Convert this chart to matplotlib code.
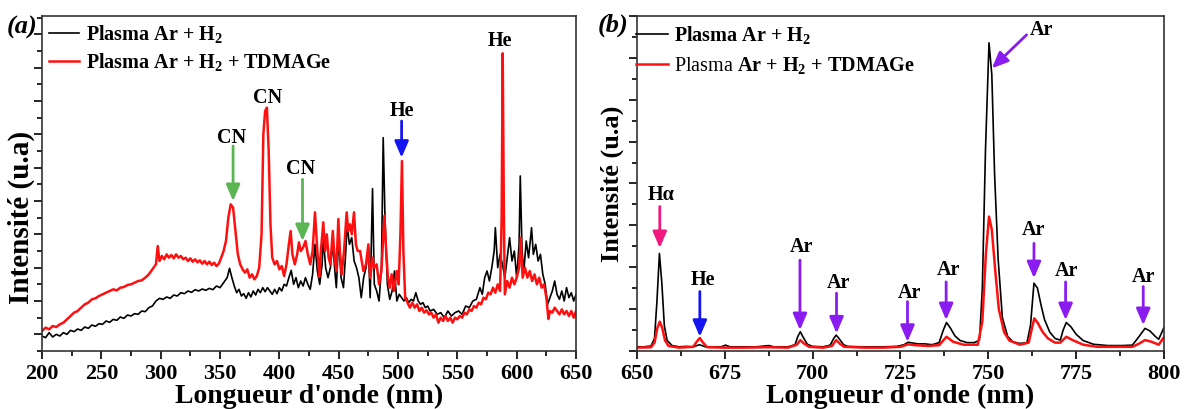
import matplotlib
matplotlib.use("Agg")
from matplotlib import pyplot as plt
from matplotlib.ticker import FixedLocator, MultipleLocator

plt.rcParams['font.family'] = ['Liberation Serif', 'DejaVu Serif']
plt.rcParams['font.weight'] = 'bold'
plt.rcParams['axes.labelweight'] = 'bold'
plt.rcParams['mathtext.fontset'] = 'custom'
plt.rcParams['mathtext.rm'] = 'Liberation Serif:bold'
plt.rcParams['mathtext.bf'] = 'Liberation Serif:bold'
plt.rcParams['mathtext.it'] = 'Liberation Serif:bold:italic'
plt.rcParams['mathtext.sf'] = 'Liberation Serif:weight=normal'

# ---- panel (a): 200-650 nm ----
wlA_black = [200, 203, 206, 209, 212, 215, 218, 221, 224, 227, 230, 233, 236, 239, 242, 245, 248, 251,
             254, 257, 260, 263, 266, 269, 272, 275, 278, 281, 284, 287, 290, 293, 296, 299, 302, 305,
             308, 311, 314, 317, 320, 323, 326, 329, 332, 335, 338, 341, 344, 347, 350, 353, 356, 358,
             360, 362, 364, 366, 368, 370, 372, 374, 376, 378, 380, 382, 384, 386, 388, 390, 392, 394,
             396, 398, 400, 402, 404, 406, 408, 410, 412, 414, 416, 418, 420, 422, 424, 426, 428, 430,
             432, 434, 436, 437, 439, 441, 443, 445, 447, 448, 450, 452, 454, 456, 457, 459, 461, 463,
             465, 467, 469, 471, 473, 475, 476.5, 478.5, 480, 482, 484, 486, 487.5, 489, 491, 493, 495,
             497, 499, 501, 503, 505, 507, 509, 511, 513, 515, 517, 519, 521, 523, 525, 527, 530, 533,
             536, 539, 542, 545, 548, 551, 554, 557, 560, 563, 566, 569, 571, 573, 575, 577, 579, 581,
             582, 584, 586, 588, 590, 592, 594, 596, 598, 600, 602, 603, 604.5, 606, 608, 610, 612.5,
             614, 616, 618, 620, 622, 624, 626, 628, 630, 632, 634, 636, 638, 640, 642, 644, 646, 648, 650]
intA_black = [0.45, 0.4, 0.55, 0.42, 0.5, 0.45, 0.55, 0.5, 0.62, 0.58, 0.66, 0.62, 0.72, 0.68, 0.78, 0.74,
              0.82, 0.8, 0.9, 0.86, 0.95, 0.92, 1.02, 0.98, 1.08, 1.05, 1.12, 1.1, 1.2, 1.18, 1.3, 1.35,
              1.5, 1.58, 1.55, 1.62, 1.58, 1.68, 1.65, 1.75, 1.72, 1.8, 1.76, 1.84, 1.8, 1.86, 1.82, 1.88,
              1.84, 1.95, 1.9, 2.05, 2.2, 2.48, 2.2, 1.95, 1.75, 1.85, 1.65, 1.72, 1.58, 1.75, 1.62, 1.8,
              1.68, 1.85, 1.75, 1.9, 1.78, 1.9, 1.8, 1.7, 1.85, 1.72, 1.9, 1.8, 2.0, 1.95, 2.2, 2.42, 2.0,
              2.2, 1.9, 2.1, 1.95, 2.2, 2.0, 1.85, 2.3, 3.2, 2.4, 2.0, 2.6, 3.4, 2.5, 2.2, 2.5, 3.2, 2.3,
              1.9, 3.4, 2.2, 1.9, 3.0, 3.8, 3.2, 3.4, 2.7, 2.5, 2.2, 1.6, 2.2, 2.5, 3.1, 1.6, 4.87, 2.0,
              1.8, 1.5, 2.5, 6.4, 4.0, 2.0, 1.55, 1.8, 2.4, 1.5, 1.7, 1.6, 1.5, 1.6, 1.45, 1.55, 1.5,
              1.75, 1.5, 1.4, 1.45, 1.3, 1.35, 1.2, 1.25, 1.1, 1.15, 1.0, 1.2, 1.05, 1.15, 1.2, 1.1,
              1.35, 1.3, 1.5, 1.55, 1.9, 1.7, 2.2, 2.4, 2.1, 2.5, 3.0, 3.7, 2.5, 2.9, 2.6, 2.2, 2.8, 3.4,
              2.7, 3.0, 2.2, 3.2, 5.25, 3.0, 2.4, 3.3, 2.8, 3.7, 2.9, 3.2, 2.7, 2.9, 2.3, 2.0, 1.4, 1.6,
              1.8, 2.1, 1.7, 1.55, 1.8, 1.5, 1.9, 1.6, 1.75, 1.5, 1.7]

wlA_red = [200, 203, 206, 209, 212, 215, 218, 221, 224, 227, 230, 233, 236, 239, 242, 245, 248, 251, 254,
           257, 260, 263, 266, 269, 272, 275, 278, 281, 284, 287, 290, 293, 296, 297.5, 299, 301, 303,
           305, 307, 309, 311, 313, 315, 317, 319, 321, 323, 325, 327, 329, 331, 333, 335, 337, 339,
           341, 343, 345, 347, 349, 351, 353, 355, 357, 359, 361, 363, 365, 367, 369, 371, 373, 375,
           377, 379, 381, 383, 385, 386.5, 388, 389.5, 391, 392.5, 394, 396, 398, 400, 402, 404, 406,
           408, 409.5, 411, 413, 415, 416.5, 418, 420, 422, 424, 426, 428, 430, 432, 433.7, 435, 437,
           438.5, 440, 441.5, 443, 445, 446.5, 448, 449.7, 451, 452.5, 454.5, 456.7, 458, 459.5, 461,
           462.9, 464.5, 466, 468, 470.8, 473, 475, 476.5, 478.6, 480, 482, 484, 486, 488.5, 490,
           491.5, 493, 494.6, 496.5, 498.9, 500.5, 502, 503.3, 504.5, 506, 508, 510, 512, 514, 516,
           518, 520, 522, 524, 526, 528, 530, 532, 534, 536, 538, 540, 542, 544, 546, 548, 550, 552,
           554, 556, 558, 560, 562, 564, 566, 568, 570, 572, 574, 576, 578, 580, 582, 584, 586, 587.3,
           588.2, 589.2, 590, 592, 594, 596, 598, 600, 602, 603.4, 605, 607, 609, 611, 613, 615, 617,
           619, 621, 623, 625, 626.7, 628, 630, 632, 634, 636, 638, 640, 642, 644, 646, 648, 650]
intA_red = [0.6, 0.7, 0.65, 0.75, 0.72, 0.8, 0.85, 0.95, 1.05, 1.15, 1.2, 1.3, 1.4, 1.45, 1.55, 1.58,
            1.65, 1.7, 1.75, 1.8, 1.85, 1.82, 1.9, 1.92, 1.98, 2.0, 2.05, 2.1, 2.12, 2.2, 2.3, 2.45,
            2.6, 3.15, 2.7, 2.85, 2.75, 2.9, 2.8, 2.88, 2.78, 2.9, 2.8, 2.85, 2.75, 2.8, 2.7, 2.78,
            2.68, 2.75, 2.66, 2.72, 2.62, 2.7, 2.6, 2.68, 2.58, 2.65, 2.55, 2.62, 2.8, 3.0, 3.3, 4.0,
            4.4, 4.3, 3.6, 2.9, 2.6, 2.45, 2.35, 2.45, 2.2, 2.3, 2.15, 2.25, 2.5, 3.5, 6.5, 7.2, 7.3,
            6.0, 3.8, 2.8, 2.6, 2.7, 2.45, 2.55, 2.25, 2.6, 3.2, 3.6, 2.9, 2.6, 2.9, 3.26, 3.0, 3.1,
            3.3, 2.9, 2.6, 3.0, 4.16, 3.0, 2.22, 3.0, 3.86, 3.0, 3.5, 2.8, 2.6, 3.6, 2.8, 2.4, 3.96,
            3.0, 2.3, 3.0, 4.16, 3.6, 3.8, 3.5, 4.16, 3.2, 3.0, 3.0, 2.4, 2.6, 3.2, 2.2, 2.8, 2.5, 2.6,
            2.0, 2.4, 4.06, 3.0, 2.2, 1.9, 2.3, 1.8, 2.4, 2.0, 3.5, 5.7, 3.0, 1.6, 1.45, 1.3, 1.45,
            1.3, 1.4, 1.2, 1.3, 1.15, 1.22, 1.1, 1.15, 1.0, 1.1, 0.85, 1.0, 0.9, 1.05, 0.9, 1.0, 0.85,
            1.0, 0.95, 1.05, 1.0, 1.15, 1.1, 1.25, 1.2, 1.35, 1.3, 1.45, 1.4, 1.6, 1.55, 1.75, 1.7,
            1.9, 1.75, 2.0, 1.8, 4.0, 8.93, 4.0, 1.7, 2.1, 1.9, 2.2, 2.0, 2.2, 2.5, 3.4, 2.2, 2.5, 2.2,
            2.4, 2.1, 2.3, 2.0, 2.2, 1.9, 2.0, 1.6, 0.96, 1.2, 1.15, 1.3, 1.2, 1.1, 1.25, 1.1, 1.2,
            1.05, 1.2, 1.0, 1.2]

# ---- panel (b): 650-800 nm ----
wlB_black = [650, 652, 654, 655, 655.7, 656.4, 657.1, 657.8, 658.6, 660, 662, 664, 666, 667.8, 669.5,
             672, 674, 675.2, 676.5, 680, 684, 687.5, 689, 693, 695, 695.8, 696.5, 697.3, 698.5, 700,
             703, 705, 706, 706.7, 707.5, 708.8, 710, 714, 716, 720, 724, 726, 727.2, 728.5, 730, 732,
             734, 736, 737.2, 738.1, 739.2, 740.5, 742, 744, 746, 747.5, 748.3, 749.2, 750.2, 751,
             751.8, 752.8, 754, 755.5, 757, 759, 761, 762, 763, 764, 765, 766, 767.5, 769, 770.5,
             771.3, 772.2, 773.5, 775, 777, 780, 784, 788, 791, 792.5, 794.6, 796, 797.5, 798.5, 800]
intB_black = [0.1, 0.1, 0.12, 0.3, 1.2, 2.33, 1.6, 0.6, 0.25, 0.13, 0.1, 0.11, 0.1, 0.15, 0.1, 0.1,
              0.1, 0.14, 0.1, 0.1, 0.1, 0.13, 0.1, 0.1, 0.15, 0.35, 0.46, 0.33, 0.16, 0.11, 0.1, 0.14,
              0.3, 0.38, 0.3, 0.15, 0.11, 0.1, 0.1, 0.1, 0.11, 0.15, 0.21, 0.19, 0.17, 0.17, 0.15, 0.2,
              0.5, 0.68, 0.55, 0.36, 0.25, 0.2, 0.2, 0.26, 1.5, 4.8, 7.36, 6.6, 4.2, 2.2, 0.8, 0.35,
              0.22, 0.18, 0.2, 0.6, 1.62, 1.5, 1.1, 0.75, 0.45, 0.3, 0.26, 0.5, 0.68, 0.58, 0.4, 0.25,
              0.16, 0.13, 0.13, 0.14, 0.3, 0.54, 0.48, 0.35, 0.28, 0.56]

wlB_red = [650, 654, 655, 655.8, 656.5, 657.2, 658, 659, 662, 666, 667, 667.9, 668.8, 670, 675, 680,
           687, 693, 695.5, 696.5, 697.5, 699, 703, 705.5, 706.7, 707.8, 709, 715, 720, 725, 727.2,
           729, 733, 736, 738.1, 740, 743, 747, 748.3, 749.3, 750.2, 751, 752, 753, 754.5, 756, 759,
           761.5, 762.3, 763.1, 764, 765.5, 767, 769, 770.5, 772.2, 774, 777, 781, 788, 791, 793,
           794.6, 796.5, 798.5, 800]
intB_red = [0.08, 0.09, 0.2, 0.55, 0.7, 0.55, 0.25, 0.12, 0.08, 0.1, 0.22, 0.31, 0.2, 0.09, 0.08, 0.08,
            0.09, 0.08, 0.15, 0.26, 0.18, 0.1, 0.08, 0.12, 0.26, 0.17, 0.1, 0.08, 0.08, 0.1, 0.16,
            0.14, 0.12, 0.14, 0.34, 0.22, 0.15, 0.15, 0.7, 2.3, 3.21, 2.9, 1.9, 1.0, 0.45, 0.25, 0.15,
            0.2, 0.5, 0.78, 0.68, 0.45, 0.3, 0.2, 0.2, 0.34, 0.26, 0.15, 0.1, 0.1, 0.1, 0.18, 0.26,
            0.22, 0.15, 0.33]

lab_black = r"Plasma Ar + H$_2$"
lab_red = r"Plasma Ar + H$_2$ + TDMAGe"
lab_red_b = r"$\mathsf{Plasma}$ Ar + H$_2$ + TDMAGe"

# labels: (text, x, y), arrows: (x, y_tail, y_head, colour)
textsA = [("CN", 360, 6.4), ("CN", 390.5, 7.6), ("CN", 418, 5.45), ("He", 503, 7.2), ("He", 586, 9.3)]
arrowsA = [(361, 6.15, 4.5, "#5ab552"), (419.5, 5.15, 3.3, "#5ab552"), (503, 6.9, 5.8, "#1515f0")]
textsB = [("H\u03b1", 656.8, 3.73), ("He", 668.7, 1.7), ("Ar", 696.9, 2.49), ("Ar", 707.3, 1.62),
          ("Ar", 727.7, 1.39), ("Ar", 738.6, 1.93), ("Ar", 765.2, 7.67), ("Ar", 763, 2.89),
          ("Ar", 772.3, 1.9), ("Ar", 794.1, 1.77)]
arrowsB = [(656.5, 3.45, 2.46, "#f0197d"), (667.9, 1.42, 0.34, "#1515f0"), (696.4, 2.17, 0.5, "#8a1cf0"),
           (706.8, 1.38, 0.42, "#8a1cf0"), (727.0, 1.18, 0.22, "#8a1cf0"), (738.0, 1.65, 0.74, "#8a1cf0"),
           (763.0, 2.57, 1.74, "#8a1cf0"), (772.0, 1.65, 0.74, "#8a1cf0"), (794.1, 1.54, 0.62, "#8a1cf0")]

fig = plt.figure(figsize=(11.87, 4.09), dpi=100)
axA = fig.add_axes([0.0354, 0.1418, 0.4499, 0.8191])
axB = fig.add_axes([0.5366, 0.1418, 0.4440, 0.8191])

ARROW = dict(arrowstyle='-|>,head_width=0.3,head_length=0.7', lw=2, shrinkA=0, shrinkB=0,
             mutation_scale=14)


def style(ax, xmaj, xmin):
    ax.xaxis.set_major_locator(MultipleLocator(xmaj))
    ax.xaxis.set_minor_locator(MultipleLocator(xmin))
    ax.tick_params(which='both', direction='out', top=False, right=False, width=1.2)
    ax.tick_params(which='major', length=6, labelsize=16, pad=3)
    ax.tick_params(which='minor', length=3.5)
    ax.set_yticklabels([])
    for lbl in ax.get_xticklabels():
        lbl.set_fontweight('bold')
    for s in ax.spines.values():
        s.set_linewidth(1.2)
        s.set_color('#333333')
    ax.set_xlabel("Longueur d'onde (nm)", fontsize=20, labelpad=0)


axA.plot(wlA_black, intA_black, color='black', lw=1.2, label=lab_black)
axA.plot(wlA_red, intA_red, color='#ff1010', lw=1.8, label=lab_red)
axA.set_xlim(200, 650)
axA.set_ylim(0, 10.05)
axA.yaxis.set_major_locator(FixedLocator([i + 0.5 for i in range(10)]))
axA.yaxis.set_minor_locator(FixedLocator(list(range(11))))
style(axA, 50, 25)
axA.set_ylabel("Intensité (u.a)", fontsize=21)
axA.yaxis.set_label_coords(-0.013, 0.40)
for t, x, y in textsA:
    axA.text(x, y, t, ha='center', va='center', fontsize=14.5)
for x, y0, y1, c in arrowsA:
    axA.annotate("", xy=(x, y1), xytext=(x, y0), arrowprops=dict(ARROW, color=c))

axB.plot(wlB_black, intB_black, color='black', lw=1.2, label=lab_black)
axB.plot(wlB_red, intB_red, color='#ff1010', lw=1.8, label=lab_red_b)
axB.set_xlim(650, 800)
axB.set_ylim(0, 8)
axB.yaxis.set_major_locator(MultipleLocator(1))
axB.yaxis.set_minor_locator(MultipleLocator(0.5))
style(axB, 25, 12.5)
axB.set_ylabel("Intensité (u.a)", fontsize=19)
axB.yaxis.set_label_coords(-0.025, 0.5)
for t, x, y in textsB:
    axB.text(x, y, t, ha='center', va='center', fontsize=14.5)
for x, y0, y1, c in arrowsB:
    axB.annotate("", xy=(x, y1), xytext=(x, y0), arrowprops=dict(ARROW, color=c))
# slanted arrow for the main Ar line
axB.annotate("", xy=(751.0, 6.75), xytext=(760.9, 7.55), arrowprops=dict(ARROW, color="#8a1cf0"))

axA.legend(loc='upper left', frameon=False, fontsize=14.5, handlelength=1.5, handletextpad=0.35,
           labelspacing=0.3, borderaxespad=0.1, borderpad=0.25)
axB.legend(loc='upper left', bbox_to_anchor=(-0.012, 0.99), frameon=False, fontsize=14.5,
           handlelength=1.6, handletextpad=0.3, labelspacing=0.42, borderaxespad=0.0, borderpad=0.25)

fig.text(0.0185, 0.932, "(a)", fontsize=19, style='italic', ha='center', va='center')
fig.text(0.5165, 0.937, "(b)", fontsize=19, style='italic', ha='center', va='center')

fig.savefig("out.png", dpi=100)
